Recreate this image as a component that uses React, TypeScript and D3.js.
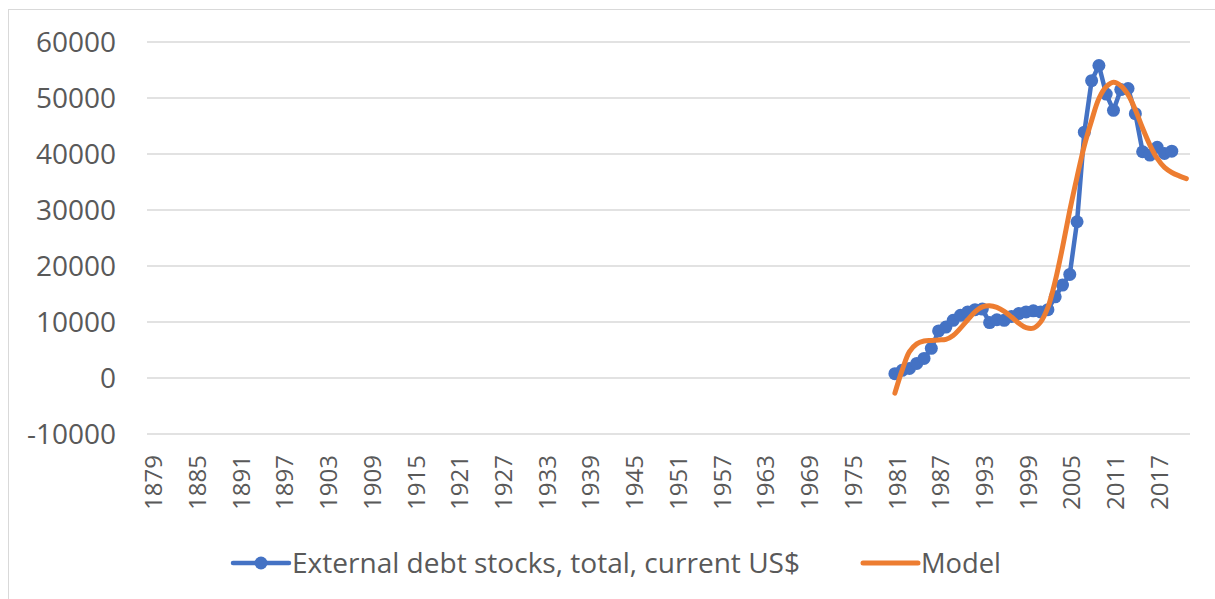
import { useEffect, useRef } from "react";
import * as d3 from "d3";

const firstYear = 1879;
const lastYear = 2021;
const years = d3.range(firstYear, lastYear + 1);
const tickYears = d3.range(1879, 2018, 6);
const yTicks = [-10000, 0, 10000, 20000, 30000, 40000, 50000, 60000];

const debtYears = d3.range(1981, 2020);
const debtValues = [
  770, 1370, 1700, 2600, 3500, 5300, 8400, 9100, 10300, 11200,
  11800, 12200, 12300, 9900, 10400, 10300, 11000, 11500, 11800, 12000,
  11800, 12200, 14500, 16600, 18500, 27900, 43900, 53100, 55800, 50700,
  47800, 51500, 51700, 47200, 40400, 39800, 41200, 40100, 40500,
];

const modelYears = d3.range(1981, 2022);
const modelValues = [
  -2700, 1400, 4700, 6100, 6600, 6700, 6800, 6900, 7600, 8900,
  10400, 11800, 12700, 12900, 12600, 11900, 10900, 9800, 9000, 8900,
  10000, 12600, 17300, 23300, 29900, 35900, 41500, 46000, 49900, 52000,
  52800, 52200, 50600, 47900, 44600, 41600, 39200, 37600, 36700, 36100,
  35600,
];

const W = 1215;
const H = 599;
const left = 148;
const right = 1190;
const top = 42;
const bottom = 434;
const font = "'Open Sans', sans-serif";
const textColor = "#595959";

export default function App() {
  const svgRef = useRef<SVGSVGElement>(null);

  useEffect(() => {
    const svg = d3.select(svgRef.current);
    svg.selectAll("*").remove();

    const x = d3
      .scaleBand<number>()
      .domain(years)
      .range([left, right])
      .padding(0);
    const cx = (yr: number) => (x(yr) as number) + x.bandwidth() / 2;

    const y = d3.scaleLinear().domain([-10000, 60000]).range([bottom, top]);

    // chart border
    svg
      .append("rect")
      .attr("x", 8.5)
      .attr("y", 9.5)
      .attr("width", W)
      .attr("height", H)
      .attr("fill", "white")
      .attr("stroke", "#d9d9d9");

    // gridlines
    svg
      .append("g")
      .selectAll("line")
      .data(yTicks)
      .join("line")
      .attr("x1", left - 1)
      .attr("x2", right)
      .attr("y1", (d) => y(d))
      .attr("y2", (d) => y(d))
      .attr("stroke", "#d9d9d9")
      .attr("stroke-width", 1.5);

    // y labels
    svg
      .append("g")
      .selectAll("text")
      .data(yTicks)
      .join("text")
      .attr("x", 116)
      .attr("y", (d) => y(d))
      .attr("dy", "0.36em")
      .attr("text-anchor", "end")
      .attr("font-family", font)
      .attr("font-size", 28)
      .attr("fill", textColor)
      .text((d) => String(d));

    // x labels
    svg
      .append("g")
      .selectAll("text")
      .data(tickYears)
      .join("text")
      .attr("transform", (d) => `translate(${cx(d) + 2},455) rotate(-90)`)
      .attr("dy", "0.36em")
      .attr("text-anchor", "end")
      .attr("font-family", font)
      .attr("font-size", 24)
      .attr("fill", textColor)
      .text((d) => String(d));

    const debt = debtYears.map((yr, i) => ({ yr, v: debtValues[i] }));
    const model = modelYears.map((yr, i) => ({ yr, v: modelValues[i] }));

    const debtLine = d3
      .line<{ yr: number; v: number }>()
      .x((d) => cx(d.yr))
      .y((d) => y(d.v));

    svg
      .append("path")
      .datum(debt)
      .attr("fill", "none")
      .attr("stroke", "#4472c4")
      .attr("stroke-width", 4.5)
      .attr("stroke-linejoin", "round")
      .attr("d", debtLine);

    svg
      .append("g")
      .selectAll("circle")
      .data(debt)
      .join("circle")
      .attr("cx", (d) => cx(d.yr))
      .attr("cy", (d) => y(d.v))
      .attr("r", 6.5)
      .attr("fill", "#4472c4");

    const modelLine = d3
      .line<{ yr: number; v: number }>()
      .curve(d3.curveCatmullRom)
      .x((d) => cx(d.yr))
      .y((d) => y(d.v));

    svg
      .append("path")
      .datum(model)
      .attr("fill", "none")
      .attr("stroke", "#ed7d31")
      .attr("stroke-width", 5)
      .attr("stroke-linecap", "round")
      .attr("d", modelLine);

    // legend
    const legendY = 563;
    svg
      .append("line")
      .attr("x1", 233)
      .attr("x2", 289)
      .attr("y1", legendY)
      .attr("y2", legendY)
      .attr("stroke", "#4472c4")
      .attr("stroke-width", 4.5)
      .attr("stroke-linecap", "round");
    svg
      .append("circle")
      .attr("cx", 261)
      .attr("cy", legendY)
      .attr("r", 6.5)
      .attr("fill", "#4472c4");
    svg
      .append("text")
      .attr("x", 292)
      .attr("y", legendY)
      .attr("dy", "0.36em")
      .attr("font-family", font)
      .attr("font-size", 28)
      .attr("textLength", 508)
      .attr("lengthAdjust", "spacingAndGlyphs")
      .attr("fill", textColor)
      .text("External debt stocks, total, current US$");

    svg
      .append("line")
      .attr("x1", 863)
      .attr("x2", 918)
      .attr("y1", legendY)
      .attr("y2", legendY)
      .attr("stroke", "#ed7d31")
      .attr("stroke-width", 5)
      .attr("stroke-linecap", "round");
    svg
      .append("text")
      .attr("x", 921)
      .attr("y", legendY)
      .attr("dy", "0.36em")
      .attr("font-family", font)
      .attr("font-size", 28)
      .attr("textLength", 80)
      .attr("lengthAdjust", "spacingAndGlyphs")
      .attr("fill", textColor)
      .text("Model");
  }, []);

  return (
    <svg
      ref={svgRef}
      width={W}
      height={H}
      style={{ position: "absolute", left: 0, top: 0 }}
    />
  );
}
